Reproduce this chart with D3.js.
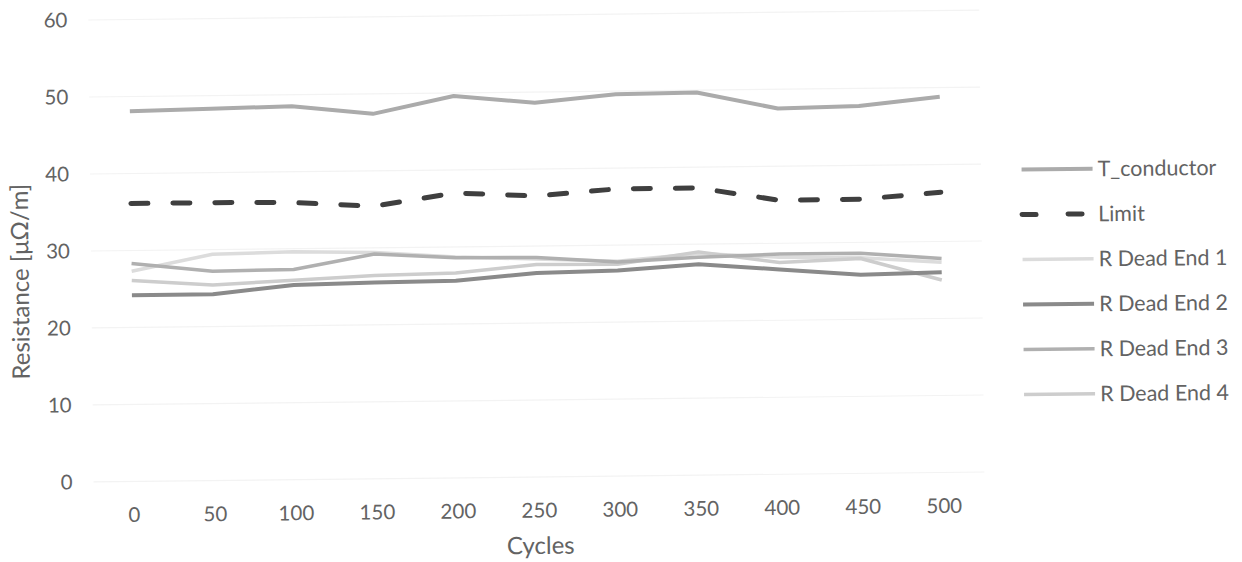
<!DOCTYPE html>
<html><head><meta charset="utf-8">
<script src="https://cdn.jsdelivr.net/npm/d3@7"></script>
<style>body{margin:0;background:#fff}svg{display:block}</style>
</head><body>
<svg id="chart" width="1242" height="562"></svg>
<script>
const categories = [0, 50, 100, 150, 200, 250, 300, 350, 400, 450, 500];
const tConductor = [48.1, 48.3, 48.5, 47.4, 49.6, 48.6, 49.6, 49.7, 47.5, 47.7, 48.8];
const limit      = [36.1, 36.1, 36.0, 35.4, 37.0, 36.5, 37.3, 37.3, 35.6, 35.6, 36.4];
const rDeadEnd1  = [27.3, 29.4, 29.6, 29.4, 28.7, 28.3, 27.9, 28.8, 28.2, 28.0, 27.3];
const rDeadEnd2  = [24.2, 24.2, 25.3, 25.5, 25.6, 26.5, 26.7, 27.4, 26.6, 25.8, 26.0];
const rDeadEnd3  = [28.3, 27.2, 27.3, 29.2, 28.6, 28.5, 27.8, 28.3, 28.6, 28.6, 27.8];
const rDeadEnd4  = [26.1, 25.4, 25.9, 26.4, 26.6, 27.6, 27.5, 29.0, 27.5, 27.9, 25.0];
const yTicks = [0, 10, 20, 30, 40, 50, 60];
const seriesNames = ["T_conductor", "Limit", "R Dead End 1", "R Dead End 2", "R Dead End 3", "R Dead End 4"];
const seriesValues = [tConductor, limit, rDeadEnd1, rDeadEnd2, rDeadEnd3, rDeadEnd4];
const seriesColors = ["#ababab", "#3f3f3f", "#dcdcdc", "#8a8a8a", "#b0b0b0", "#cdcdcd"];
const seriesDash = [null, "17,25", null, null, null, null];
const seriesWidth = [4, 5, 3.5, 4, 3.5, 3.5];

const font = "Lato, 'Open Sans', sans-serif";
const textColor = "#636363";

const svg = d3.select("#chart");
const g = svg.append("g").attr("transform", "rotate(-0.64, 90, 482)");

const x = d3.scaleBand().domain(categories).range([93.5, 984.5]);
const xc = c => x(c) + x.bandwidth() / 2;
const y = d3.scaleLinear().domain([0, 60]).range([482, 20]);

// gridlines
g.append("g").selectAll("line").data(yTicks).join("line")
  .attr("x1", 93.5).attr("x2", 984.5)
  .attr("y1", d => y(d)).attr("y2", d => y(d))
  .attr("stroke", "#f3f3f3").attr("stroke-width", 1.2);

// y axis
const yAxis = g.append("g").attr("transform", "translate(93.5,0)")
  .call(d3.axisLeft(y).tickValues(yTicks).tickSize(0).tickPadding(21));
yAxis.select(".domain").remove();
yAxis.selectAll("text").attr("font-family", font).attr("font-size", 20.5).attr("fill", textColor);

// x axis
const xAxis = g.append("g").attr("transform", "translate(0,482)")
  .call(d3.axisBottom(x).tickSize(0).tickPadding(26));
xAxis.select(".domain").remove();
xAxis.selectAll("text").attr("font-family", font).attr("font-size", 20.5).attr("fill", textColor);

// axis titles
g.append("text").attr("x", 540).attr("y", 559).attr("text-anchor", "middle")
  .attr("font-family", font).attr("font-size", 24).attr("fill", textColor).text("Cycles");
g.append("text").attr("transform", "translate(31,281) rotate(-90)").attr("text-anchor", "middle")
  .attr("font-family", font).attr("font-size", 24).attr("fill", textColor).text("Resistance [μΩ/m]");

// lines
const line = d3.line().x((d, i) => xc(categories[i])).y(d => y(d));
const order = [2, 5, 4, 3, 0, 1];
order.forEach(k => {
  g.append("path").datum(seriesValues[k])
    .attr("d", line).attr("fill", "none")
    .attr("stroke", seriesColors[k]).attr("stroke-width", seriesWidth[k])
    .attr("stroke-linejoin", "round")
    .attr("stroke-linecap", seriesDash[k] ? "round" : "butt")
    .attr("stroke-dasharray", seriesDash[k]);
});

// legend
const leg = g.append("g").selectAll("g").data(seriesNames).join("g")
  .attr("transform", (d, i) => `translate(1025,${180 + i * 45})`);
leg.append("line").attr("x1", 0).attr("x2", 71).attr("y1", 0).attr("y2", 0)
  .attr("stroke", (d, i) => seriesColors[i]).attr("stroke-width", (d, i) => seriesWidth[i])
  .attr("stroke-linecap", (d, i) => seriesDash[i] ? "round" : "butt")
  .attr("stroke-dasharray", (d, i) => seriesDash[i] ? "14,32" : null);
leg.append("text").attr("x", 76).attr("y", 0).attr("dy", "0.35em")
  .attr("font-family", font).attr("font-size", 21.5).attr("fill", textColor).text(d => d);
</script>
</body></html>
